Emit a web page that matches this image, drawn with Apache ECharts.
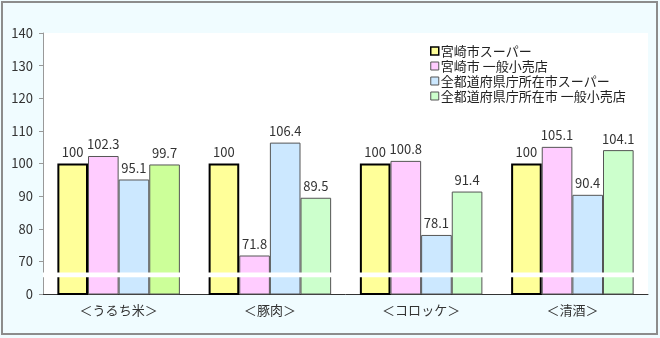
<!DOCTYPE html>
<html>
<head>
<meta charset="utf-8">
<script src="https://cdn.jsdelivr.net/npm/echarts@6/dist/echarts.min.js"></script>
<style>
html,body{margin:0;padding:0;background:#fff;}
#c{width:660px;height:338px;}
</style>
</head>
<body>
<div id="c"></div>
<script>
const categories = ['＜うるち米＞', '＜豚肉＞', '＜コロッケ＞', '＜清酒＞'];
const seriesNames = ['宮崎市スーパー', '宮崎市 一般小売店', '全都道府県庁所在市スーパー', '全都道府県庁所在市 一般小売店'];
const miyazakiSuper = [100, 100, 100, 100];
const miyazakiRetail = [102.3, 71.8, 100.8, 105.1];
const allSuper = [95.1, 106.4, 78.1, 90.4];
const allRetail = [99.7, 89.5, 91.4, 104.1];
const yTickValues = [60, 70, 80, 90, 100, 110, 120, 130, 140];
const yTickLabels = ['0', '70', '80', '90', '100', '110', '120', '130', '140'];

const font = '"Noto Sans CJK JP", "Noto Sans", sans-serif';
const colors = ['#ffff99', '#ffccff', '#cce8ff', '#ccffcc'];
const borders = ['#000000', '#555555', '#555555', '#555555'];
const borderW = [2, 1, 1, 1];
const values = [miyazakiSuper, miyazakiRetail, allSuper, allRetail];

const chart = echarts.init(document.getElementById('c'), null, {renderer: 'canvas'});

const series = values.map((vals, si) => ({
  name: seriesNames[si],
  type: 'bar',
  barGap: '0%',
  barCategoryGap: '19%',
  data: vals.map((v, ci) => {
    const d = {value: v};
    if (si === 3 && ci === 0) d.itemStyle = {color: '#ccff99'};
    return d;
  }),
  itemStyle: {color: colors[si], borderColor: borders[si], borderWidth: borderW[si]},
  label: {
    show: true, position: 'top', distance: 5,
    fontFamily: font, fontSize: 13, color: '#333',
    formatter: p => String(p.value)
  },
  emphasis: {disabled: true},
  markArea: si === 3 ? {
    silent: true,
    z: 20,
    itemStyle: {color: '#ffffff', opacity: 1},
    data: [[{yAxis: 65.1}, {yAxis: 66.6}]]
  } : undefined,
  z: 2
}));

chart.setOption({
  backgroundColor: '#f0fcff',
  animation: false,
  graphic: [{
    type: 'rect', z: 100, silent: true,
    shape: {x: 2, y: 2, width: 655, height: 332},
    style: {fill: 'none', stroke: '#8c8c8c', lineWidth: 2}
  }],
  grid: {
    left: 43, right: 12, top: 33, bottom: 44,
    show: true, backgroundColor: '#ffffff', borderWidth: 0
  },
  legend: {
    orient: 'vertical',
    left: 425, top: 39,
    itemWidth: 8, itemHeight: 8, itemGap: 1,
    icon: 'rect',
    textStyle: {fontFamily: font, fontSize: 13, lineHeight: 14, color: '#222', padding: [0, 0, 0, -3]},
    data: seriesNames.map((n, i) => ({name: n, itemStyle: {color: colors[i], borderColor: i === 0 ? '#000' : '#555', borderWidth: i === 0 ? 1.5 : 1}}))
  },
  xAxis: {
    type: 'category',
    data: categories,
    axisLine: {lineStyle: {color: '#333', width: 1}},
    axisTick: {show: false},
    axisLabel: {fontFamily: font, fontSize: 13, color: '#333', margin: 10}
  },
  yAxis: {
    type: 'value',
    min: 60, max: 140, interval: 10,
    axisLine: {show: true, lineStyle: {color: '#999'}},
    axisTick: {show: true, length: 4, lineStyle: {color: '#999'}},
    splitLine: {show: false},
    axisLabel: {
      fontFamily: font, fontSize: 13, color: '#333', margin: 10,
      formatter: v => yTickLabels[yTickValues.indexOf(v)]
    }
  },
  series: series
});
</script>
</body>
</html>
